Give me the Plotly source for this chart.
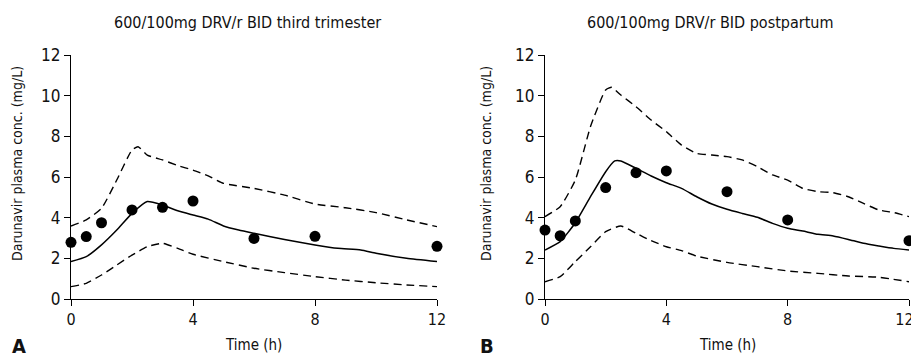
import plotly.graph_objects as go

# ---------------- data ----------------
obs_time = [0, 0.5, 1, 2, 3, 4, 6, 8, 12]
obs_A = [2.79, 3.07, 3.75, 4.38, 4.51, 4.82, 2.98, 3.08, 2.59]
obs_B = [3.39, 3.11, 3.84, 5.48, 6.21, 6.30, 5.28, 3.89, 2.87]

med_time_A = [0, 0.5, 1, 1.5, 2, 2.5, 3, 3.5, 4, 4.5, 5, 5.5, 6, 7, 8, 8.75, 9.5, 10, 11, 12]
med_A = [1.84, 2.08, 2.66, 3.39, 4.21, 4.79, 4.62, 4.34, 4.13, 3.93, 3.59, 3.39, 3.23, 2.93, 2.66, 2.49, 2.41, 2.25, 2.0, 1.84]

up_time_A = [0, 0.5, 1, 1.5, 2, 2.2, 2.5, 3, 3.5, 4, 4.5, 5, 6, 7, 8, 9, 10, 11, 12]
up_A = [3.59, 3.89, 4.46, 5.85, 7.33, 7.49, 7.08, 6.84, 6.56, 6.34, 6.05, 5.69, 5.44, 5.11, 4.67, 4.49, 4.25, 3.89, 3.56]

lo_time_A = [0, 0.5, 1, 1.5, 2, 2.5, 3, 3.5, 4, 5, 6, 7, 8, 9, 10, 11, 12]
lo_A = [0.61, 0.77, 1.18, 1.67, 2.16, 2.57, 2.74, 2.49, 2.2, 1.84, 1.51, 1.3, 1.1, 0.93, 0.8, 0.69, 0.61]

med_time_B = [0, 0.5, 1, 1.5, 2, 2.3, 2.5, 3, 3.5, 4, 4.5, 5, 5.5, 6, 6.5, 7, 7.5, 8, 8.5, 9, 9.5, 10, 10.5, 11, 11.5, 12]
med_B = [2.41, 2.82, 3.75, 5.03, 6.26, 6.79, 6.79, 6.43, 6.05, 5.72, 5.44, 5.03, 4.67, 4.41, 4.21, 4.02, 3.72, 3.48, 3.34, 3.18, 3.10, 2.93, 2.74, 2.61, 2.49, 2.41]

up_time_B = [0, 0.5, 1, 1.5, 2, 2.2, 2.5, 3, 3.5, 4, 4.5, 5, 5.5, 6, 6.5, 7, 7.5, 8, 8.5, 9, 9.5, 10, 10.5, 11, 11.5, 12]
up_B = [4.05, 4.54, 5.85, 8.48, 10.28, 10.41, 10.03, 9.46, 8.80, 8.23, 7.57, 7.16, 7.08, 7.0, 6.84, 6.51, 6.10, 5.85, 5.44, 5.28, 5.23, 5.03, 4.70, 4.38, 4.25, 4.05]

lo_time_B = [0, 0.5, 1, 1.5, 2, 2.5, 3, 3.5, 4, 4.5, 5, 6, 7, 8, 9, 10, 11, 12]
lo_B = [0.85, 1.10, 1.84, 2.57, 3.31, 3.59, 3.23, 2.87, 2.57, 2.38, 2.11, 1.80, 1.59, 1.38, 1.26, 1.13, 1.07, 0.85]

titles = ["600/100mg DRV/r BID third trimester", "600/100mg DRV/r BID postpartum"]
panel_letters = ["A", "B"]
x_ticks = [0, 4, 8, 12]
x_ticklabels = ["0", "4", "8", "12"]
y_ticks = [0, 2, 4, 6, 8, 10, 12]
x_title = "Time (h)"
y_title = "Darunavir plasma conc. (mg/L)"

# ---------------- figure ----------------
# page body has an 8px default margin; compensate so the figure fills the window
OFF = 8
W, H = 919 - OFF, 359 - OFF
FONT = "Liberation Sans Narrow, DejaVu Sans Condensed, Arial Narrow, sans-serif"


def fx(px):
    return (px - OFF) / W


def fy(py):
    return 1 - (py - OFF) / H


fig = go.Figure()

panels = [
    (obs_A, med_time_A, med_A, up_time_A, up_A, lo_time_A, lo_A),
    (obs_B, med_time_B, med_B, up_time_B, up_B, lo_time_B, lo_B),
]
for i, (obs, mt, mv, ut, uv, lt, lv) in enumerate(panels):
    xa = "x" if i == 0 else "x2"
    ya = "y" if i == 0 else "y2"
    dash = dict(color="black", width=1.4, dash="8px,5px", shape="spline", smoothing=0.5)
    fig.add_trace(go.Scatter(x=ut, y=uv, mode="lines", line=dash, xaxis=xa, yaxis=ya,
                             showlegend=False, cliponaxis=False))
    fig.add_trace(go.Scatter(x=lt, y=lv, mode="lines", line=dash, xaxis=xa, yaxis=ya,
                             showlegend=False, cliponaxis=False))
    fig.add_trace(go.Scatter(x=mt, y=mv, mode="lines",
                             line=dict(color="black", width=1.5, shape="spline", smoothing=0.5),
                             xaxis=xa, yaxis=ya, showlegend=False, cliponaxis=False))
    fig.add_trace(go.Scatter(x=obs_time, y=obs, mode="markers",
                             marker=dict(color="black", size=11), xaxis=xa, yaxis=ya,
                             showlegend=False, cliponaxis=False))

ydom = [fy(299), fy(55)]
xdoms = [[fx(71), fx(437)], [fx(545), fx(909)]]

axis_common = dict(showgrid=False, zeroline=False, showline=True, linecolor="black",
                   linewidth=1.3, ticks="outside", ticklen=6, tickwidth=1.3,
                   tickcolor="black", fixedrange=True, automargin=False,
                   ticklabeloverflow="allow")
xfont = dict(family=FONT, size=16, color="#111")
yfont = dict(family=FONT, size=17, color="#111")

# the last label of the right panel sits at the window edge; pad it so it stays visible
x_ticklabels_right = x_ticklabels[:-1] + [x_ticklabels[-1] + "\u00a0\u00a0"]

fig.update_layout(
    template="none",
    width=W, height=H,
    margin=dict(l=0, r=0, t=0, b=0, pad=0, autoexpand=False),
    paper_bgcolor="white", plot_bgcolor="white",
    xaxis=dict(domain=xdoms[0], range=[0, 12], tickvals=x_ticks, ticktext=x_ticklabels,
               anchor="y", tickfont=xfont, **axis_common),
    yaxis=dict(domain=ydom, range=[0, 12], tickvals=y_ticks, anchor="x", tickfont=yfont, **axis_common),
    xaxis2=dict(domain=xdoms[1], range=[0, 12], tickvals=x_ticks, ticktext=x_ticklabels_right,
                anchor="y2", tickfont=xfont, **axis_common),
    yaxis2=dict(domain=ydom, range=[0, 12], tickvals=y_ticks, anchor="x2", tickfont=yfont, **axis_common),
)

ann = []
ytitle_x = [17, 486]
letter_x = [19, 487]
for i in range(2):
    x0px = 71 if i == 0 else 545
    x1px = 437 if i == 0 else 909
    ann.append(dict(text=titles[i], x=fx(247 if i == 0 else 710), y=fy(22),
                    xref="paper", yref="paper", showarrow=False,
                    xanchor="center", yanchor="middle",
                    font=dict(family=FONT, size=16, color="#111")))
    ann.append(dict(text=x_title, x=fx((x0px + x1px) / 2), y=fy(345), xref="paper", yref="paper",
                    showarrow=False, xanchor="center", yanchor="middle",
                    font=dict(family=FONT, size=15, color="#111")))
    ann.append(dict(text=y_title, x=fx(ytitle_x[i]), y=fy(164), xref="paper", yref="paper",
                    showarrow=False, xanchor="center", yanchor="middle", textangle=-90,
                    font=dict(family=FONT, size=14, color="#111")))
    ann.append(dict(text="<b>" + panel_letters[i] + "</b>", x=fx(letter_x[i]),
                    y=fy(346), xref="paper", yref="paper", showarrow=False,
                    xanchor="center", yanchor="middle",
                    font=dict(family=FONT, size=20, color="#111")))
fig.update_layout(annotations=ann)

fig.write_html("out.html")
